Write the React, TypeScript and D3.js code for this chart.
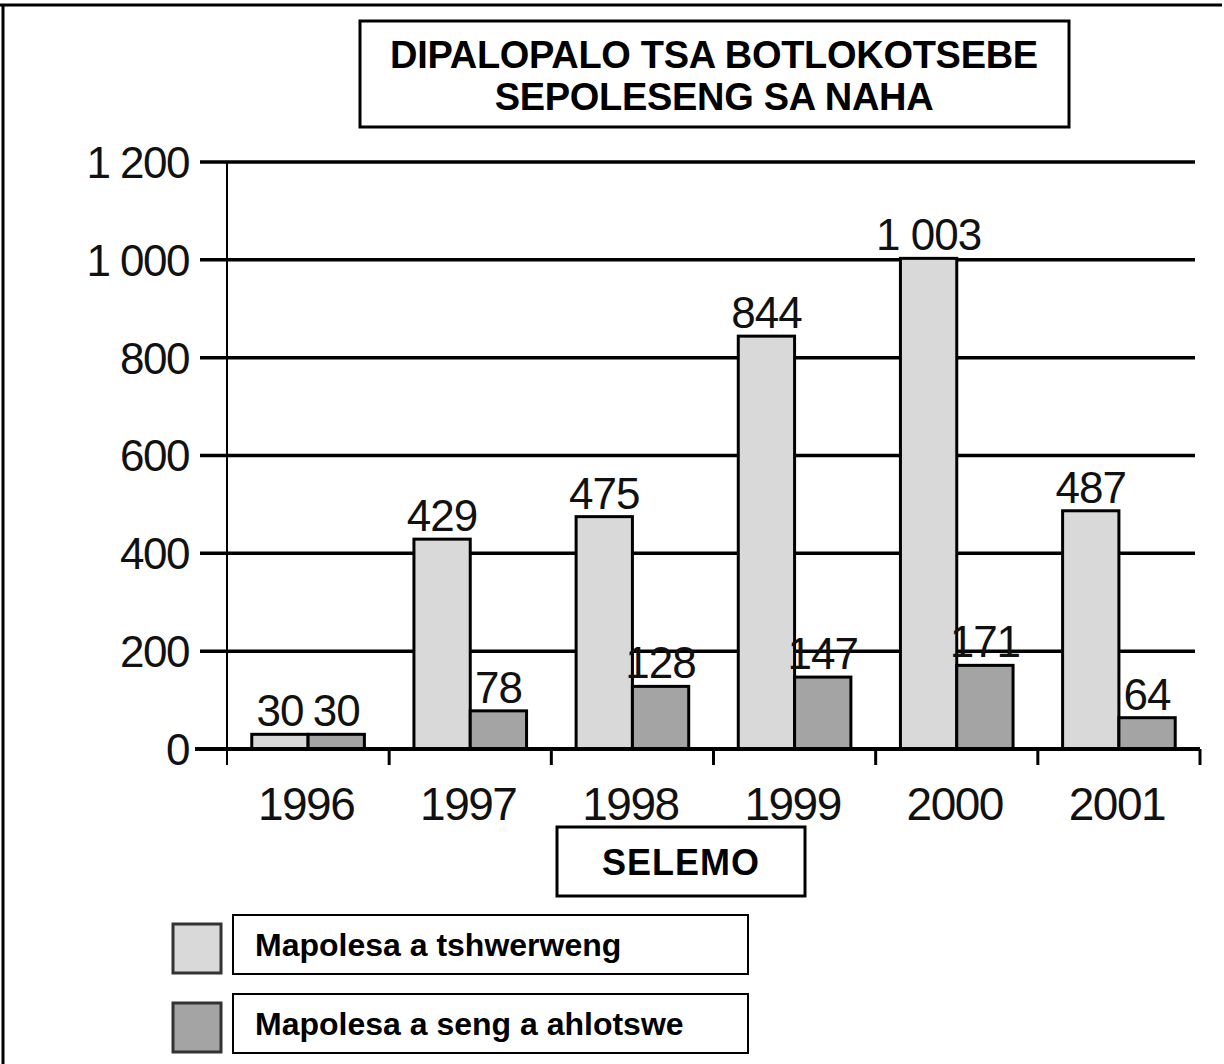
import { useEffect, useRef } from 'react';
import * as d3 from 'd3';

const years = ['1996', '1997', '1998', '1999', '2000', '2001'];
const caught = [30, 429, 475, 844, 1003, 487];
const dismissed = [30, 78, 128, 147, 171, 64];
const yTicks = [0, 200, 400, 600, 800, 1000, 1200];
const seriesNames = ['Mapolesa a tshwerweng', 'Mapolesa a seng a ahlotswe'];
const titleLines = ['DIPALOPALO TSA BOTLOKOTSEBE', 'SEPOLESENG SA NAHA'];
const xTitle = 'SELEMO';

const colors = ['#d9d9d9', '#a4a4a4'];

const App = (): JSX.Element => {
  const svgRef = useRef<SVGSVGElement>(null);

  useEffect(() => {
    if (svgRef.current) {
      svgRef.current.innerHTML = '';
    }
    const width = 1224;
    const height = 1064;
    const fmt = d3.formatLocale({ decimal: '.', thousands: ' ', grouping: [3], currency: ['', ''] }).format(',d');
    const font = '"Liberation Sans", Arial, Helvetica, sans-serif';

    const svg = d3
      .select(svgRef.current)
      .attr('width', width)
      .attr('height', height)
      .attr('viewBox', [0, 0, width, height])
      .style('background', '#fff');

    // outer frame (top + left only, as in the scan)
    svg.append('line').attr('x1', 0).attr('x2', 1222).attr('y1', 5).attr('y2', 5).attr('stroke', '#000').attr('stroke-width', 3);
    svg.append('line').attr('x1', 3).attr('x2', 3).attr('y1', 5).attr('y2', height).attr('stroke', '#000').attr('stroke-width', 3);

    const x = d3.scaleBand(years, [227, 1200]).paddingInner(0).paddingOuter(0);
    const x1 = d3.scaleBand(['a', 'b'], [0, x.bandwidth()]).paddingInner(0).paddingOuter(0.44);
    const y = d3.scaleLinear([0, 1200], [749, 162]);

    // gridlines
    svg
      .append('g')
      .selectAll('line')
      .data(yTicks.filter((d) => d > 0))
      .join('line')
      .attr('x1', 200)
      .attr('x2', 1195)
      .attr('y1', (d) => y(d))
      .attr('y2', (d) => y(d))
      .attr('stroke', '#000')
      .attr('stroke-width', 3.5);

    // y tick labels
    svg
      .append('g')
      .selectAll('text')
      .data(yTicks)
      .join('text')
      .attr('x', 189)
      .attr('y', (d) => y(d))
      .attr('dy', '0.36em')
      .attr('text-anchor', 'end')
      .attr('font-family', font)
      .attr('font-size', 44)
      .attr('letter-spacing', -1.5)
      .attr('fill', '#111')
      .text((d) => fmt(d));

    // bars
    const groups = svg
      .append('g')
      .selectAll('g')
      .data(years)
      .join('g')
      .attr('transform', (d) => `translate(${x(d)},0)`);

    const rows = (i: number) => [
      { key: 'a', v: caught[i], c: colors[0] },
      { key: 'b', v: dismissed[i], c: colors[1] },
    ];

    groups
      .selectAll('rect')
      .data((_, i) => rows(i))
      .join('rect')
      .attr('x', (d) => x1(d.key) as number)
      .attr('width', x1.bandwidth())
      .attr('y', (d) => y(d.v))
      .attr('height', (d) => y(0) - y(d.v))
      .attr('fill', (d) => d.c)
      .attr('stroke', '#000')
      .attr('stroke-width', 3);

    groups
      .selectAll('text')
      .data((_, i) => rows(i))
      .join('text')
      .attr('x', (d) => (x1(d.key) as number) + x1.bandwidth() / 2)
      .attr('y', (d) => y(d.v) - 8)
      .attr('text-anchor', 'middle')
      .attr('font-family', font)
      .attr('font-size', 44)
      .attr('letter-spacing', -1)
      .attr('fill', '#111')
      .text((d) => fmt(d.v));

    // axes
    svg.append('line').attr('x1', 195).attr('x2', 1200).attr('y1', y(0)).attr('y2', y(0)).attr('stroke', '#000').attr('stroke-width', 4);
    svg.append('line').attr('x1', 227).attr('x2', 227).attr('y1', y(1200)).attr('y2', y(0) + 16).attr('stroke', '#000').attr('stroke-width', 2);
    svg
      .append('g')
      .selectAll('line')
      .data(years.map((d) => (x(d) as number) + x.bandwidth()))
      .join('line')
      .attr('x1', (d) => d)
      .attr('x2', (d) => d)
      .attr('y1', y(0))
      .attr('y2', y(0) + 16)
      .attr('stroke', '#000')
      .attr('stroke-width', 3);

    svg
      .append('g')
      .selectAll('text')
      .data(years)
      .join('text')
      .attr('x', (d) => (x(d) as number) + x.bandwidth() / 2 - 2)
      .attr('y', 820)
      .attr('text-anchor', 'middle')
      .attr('font-family', font)
      .attr('font-size', 46)
      .attr('letter-spacing', -1.5)
      .attr('fill', '#111')
      .text((d) => d);

    // title box
    svg.append('rect').attr('x', 360).attr('y', 21).attr('width', 709).attr('height', 106).attr('fill', '#fff').attr('stroke', '#000').attr('stroke-width', 3);
    svg
      .append('g')
      .selectAll('text')
      .data(titleLines)
      .join('text')
      .attr('x', 714)
      .attr('y', (_, i) => 68 + i * 42)
      .attr('text-anchor', 'middle')
      .attr('font-family', font)
      .attr('font-weight', 'bold')
      .attr('font-size', 38)
      .attr('letter-spacing', -0.3)
      .attr('fill', '#000')
      .text((d) => d);

    // x title box
    svg.append('rect').attr('x', 557).attr('y', 827).attr('width', 248).attr('height', 69).attr('fill', '#fff').attr('stroke', '#000').attr('stroke-width', 3);
    svg
      .append('text')
      .attr('x', 681)
      .attr('y', 875)
      .attr('text-anchor', 'middle')
      .attr('font-family', font)
      .attr('font-weight', 'bold')
      .attr('font-size', 36)
      .attr('letter-spacing', 1)
      .text(xTitle);

    // legend
    const legend = svg
      .append('g')
      .selectAll('g')
      .data(seriesNames)
      .join('g')
      .attr('transform', (_, i) => `translate(0,${i * 79})`);
    legend
      .append('rect')
      .attr('x', 173)
      .attr('y', 924)
      .attr('width', 48)
      .attr('height', 49)
      .attr('fill', (_, i) => colors[i])
      .attr('stroke', '#333')
      .attr('stroke-width', 3);
    legend
      .append('rect')
      .attr('x', 233)
      .attr('y', 915)
      .attr('width', 515)
      .attr('height', 59)
      .attr('fill', '#fff')
      .attr('stroke', '#000')
      .attr('stroke-width', 2);
    legend
      .append('text')
      .attr('x', 255)
      .attr('y', 956)
      .attr('font-family', font)
      .attr('font-weight', 'bold')
      .attr('font-size', 32)
      .text((d) => d);
  }, []);

  return <svg ref={svgRef} style={{ position: 'absolute', left: 0, top: 0, display: 'block' }} />;
};

export default App;
